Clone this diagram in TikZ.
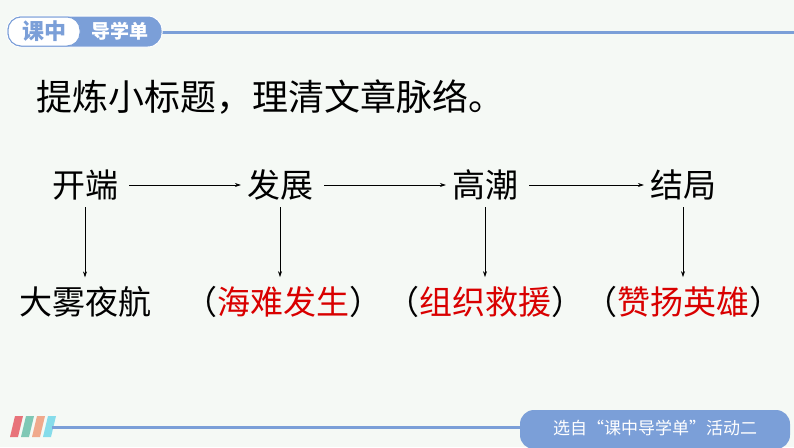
\documentclass[tikz,border=0pt]{standalone}
\usepackage{fontspec}
\usetikzlibrary{arrows.meta}
\setmainfont{Noto Sans CJK SC}
\begin{document}
\begin{tikzpicture}[x=1pt,y=-1pt,
  lab/.style={font=\fontsize{33}{33}\selectfont,inner sep=1pt},
  arr/.style={-{Stealth[length=6pt,width=4pt]},line width=0.6pt}]
\definecolor{bg}{HTML}{F5F9F5}\definecolor{bl}{HTML}{7B9FD8}
\fill[bg] (0,0) rectangle (794,447);
\useasboundingbox (0,0) rectangle (794,447);
% header
\draw[bl,line width=3pt] (155,32) -- (794,32);
\fill[bl,rounded corners=14pt,draw=white,line width=1pt] (7,16) rectangle (162,47);
\fill[white,rounded corners=13pt,draw=bl,line width=1pt] (8,17) rectangle (80,46);
\node[text=bl,font=\bfseries\fontsize{22}{22}\selectfont] (h1) at (44,31.5) {课中};
\node[text=white,font=\bfseries\fontsize{19}{19}\selectfont] (h2) at (120,31.5) {导学单};
% title
\node[anchor=west,font=\fontsize{36}{36}\selectfont] (t) at (33,97) {提炼小标题，理清文章脉络。};
% nodes
\node[lab] (a) at (85,185) {开端};
\node[lab] (b) at (280,185) {发展};
\node[lab] (c) at (485,185) {高潮};
\node[lab] (d) at (683,185) {结局};
\node[lab] (a2) at (85,302) {大雾夜航};
\node[lab] (b2) at (283,302) {（\textcolor{red!85!black}{海难发生}）};
\node[lab] (c2) at (485,302) {（\textcolor{red!85!black}{组织救援}）};
\node[lab] (d2) at (683,302) {（\textcolor{red!85!black}{赞扬英雄}）};
\draw[arr] ([xshift=10pt]a.east) -- ([xshift=-5pt]b.west);
\draw[arr] ([xshift=10pt]b.east) -- ([xshift=-5pt]c.west);
\draw[arr] ([xshift=10pt]c.east) -- ([xshift=-5pt]d.west);
\foreach \n in {a,b,c,d}{\draw[arr] ([yshift=-6pt]\n.south) -- ([yshift=8pt]\n2.north -| \n);}
% footer
\foreach \i/\c in {0/E8737A,1/7FC8B5,2/F0A98C,3/86DCEA}{
  \definecolor{s}{HTML}{\c}
  \fill[s] ({10+\i*11},437) -- ({15+\i*11},416) -- ({23+\i*11},416) -- ({18+\i*11},437) -- cycle;}
\draw[bl,line width=3pt] (52,427) -- (530,427);
\fill[bl,rounded corners=14pt] (520,410) rectangle (790,449);
\node[text=white,font=\fontsize{17}{17}\selectfont] (f) at (655,428) {选自“课中导学单”活动二};
\end{tikzpicture}
\end{document}
